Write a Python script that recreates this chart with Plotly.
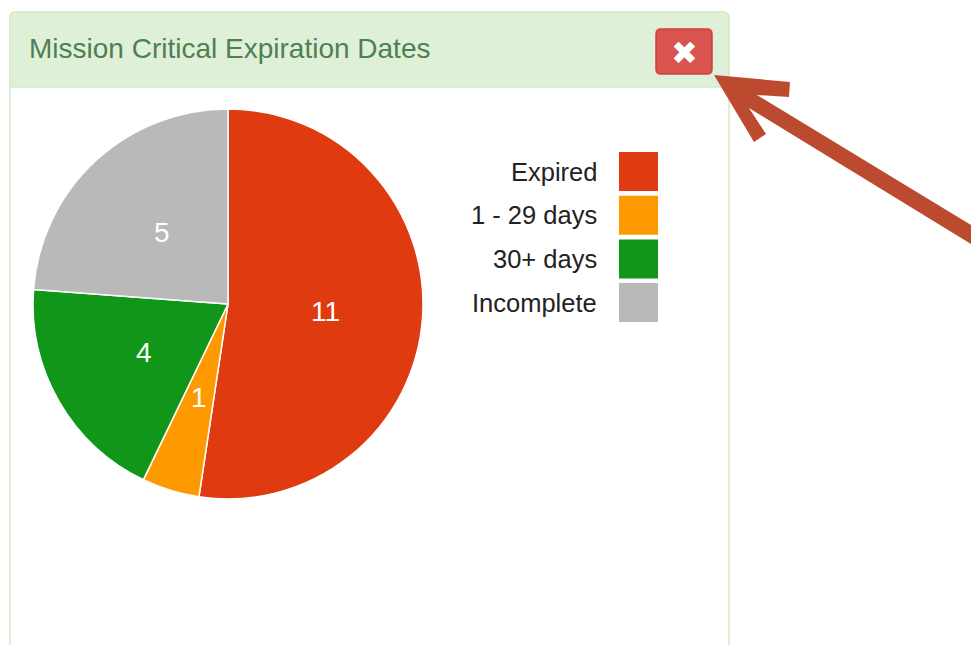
import math
import plotly.graph_objects as go

categories = ["Expired", "1 - 29 days", "30+ days", "Incomplete"]
values = [11, 1, 4, 5]
colors = ["#df3a10", "#ff9900", "#109618", "#b9b9b9"]
title_text = "Mission Critical Expiration Dates"

W, H = 971, 645
FONT = "Liberation Sans, Arial, sans-serif"
CX, CY, R = 228, 304, 195


def px(x):
    return x / W


def py(y):
    return 1 - y / H


def rounded(x0, y0, x1, y1, r, bottom=True):
    p = f"M {px(x0)} {py(y0 + r)} Q {px(x0)} {py(y0)} {px(x0 + r)} {py(y0)} L {px(x1 - r)} {py(y0)} Q {px(x1)} {py(y0)} {px(x1)} {py(y0 + r)} "
    if bottom:
        p += f"L {px(x1)} {py(y1 - r)} Q {px(x1)} {py(y1)} {px(x1 - r)} {py(y1)} L {px(x0 + r)} {py(y1)} Q {px(x0)} {py(y1)} {px(x0)} {py(y1 - r)} Z"
    else:
        p += f"L {px(x1)} {py(y1)} L {px(x0)} {py(y1)} Z"
    return p


def shape(path, fill, line=None, width=0, layer="below"):
    return dict(type="path", path=path, xref="paper", yref="paper", fillcolor=fill,
                line=dict(color=line or fill, width=width), layer=layer)


arrow_outline = [(714, 75), (790, 82), (789, 97), (757, 95), (971, 225), (971, 244),
                 (749, 108), (766, 134), (754, 142)]
arrow_path = "M " + " L ".join(f"{px(x)} {py(y)}" for x, y in arrow_outline) + " Z"

shapes = [
    shape(rounded(10, 12, 729, 670, 6), "#ffffff", "#d6e9c6", 1.5),
    shape(rounded(10, 12, 729, 87, 6, bottom=False), "#dff0d8", "#d6e9c6", 1.5),
    shape(rounded(656, 29, 712, 74, 5), "#d9534f", "#d43f3a", 1.5),
    shape(arrow_path, "#bc4a2e", layer="above"),
]

annotations = [
    dict(text=title_text, x=px(26.5), y=py(49), xanchor="left", yanchor="middle", showarrow=False,
         font=dict(family=FONT, size=28, color="#4f7f52")),
    dict(text="✖", x=px(684), y=py(53), xanchor="center", yanchor="middle", showarrow=False,
         font=dict(family="DejaVu Sans", size=32, color="#ffffff")),
]

# Legend, built from the category arrays
for i, (cat, col) in enumerate(zip(categories, colors)):
    top = 152 + i * 43.7
    shapes.append(dict(type="rect", xref="paper", yref="paper", x0=px(619), x1=px(658),
                       y0=py(top), y1=py(top + 39), fillcolor=col, line=dict(width=0), layer="below"))
    annotations.append(dict(text=cat, x=px(599), y=py(top + 19.5), xanchor="right", yanchor="middle",
                            showarrow=False, font=dict(family=FONT, size=25.5, color="#222222")))

# Slice labels sit at half the radius on each slice's mid-angle
total = sum(values)
cum = 0
for v in values:
    a = (cum + v / 2) / total * 2 * math.pi
    cum += v
    annotations.append(dict(text=str(v), x=px(CX + 0.5 * R * math.sin(a)), y=py(CY - 0.5 * R * math.cos(a)),
                            xanchor="center", yanchor="middle", showarrow=False,
                            font=dict(family=FONT, size=28, color="#ffffff")))

pie = go.Pie(labels=categories, values=values, sort=False, direction="clockwise", rotation=0,
             marker=dict(colors=colors, line=dict(color="#ffffff", width=1.5)),
             textinfo="none", hoverinfo="label+value", showlegend=False,
             domain=dict(x=[px(CX - R), px(CX + R)], y=[py(CY + R), py(CY - R)]))

fig = go.Figure(pie)
fig.update_layout(width=W, height=H, margin=dict(l=0, r=0, t=0, b=0), paper_bgcolor="#ffffff",
                  plot_bgcolor="#ffffff", shapes=shapes, annotations=annotations, showlegend=False)
fig.write_html("out.html", config={"displayModeBar": False},
               post_script="document.body.style.margin='0';document.documentElement.style.overflow='hidden';")
